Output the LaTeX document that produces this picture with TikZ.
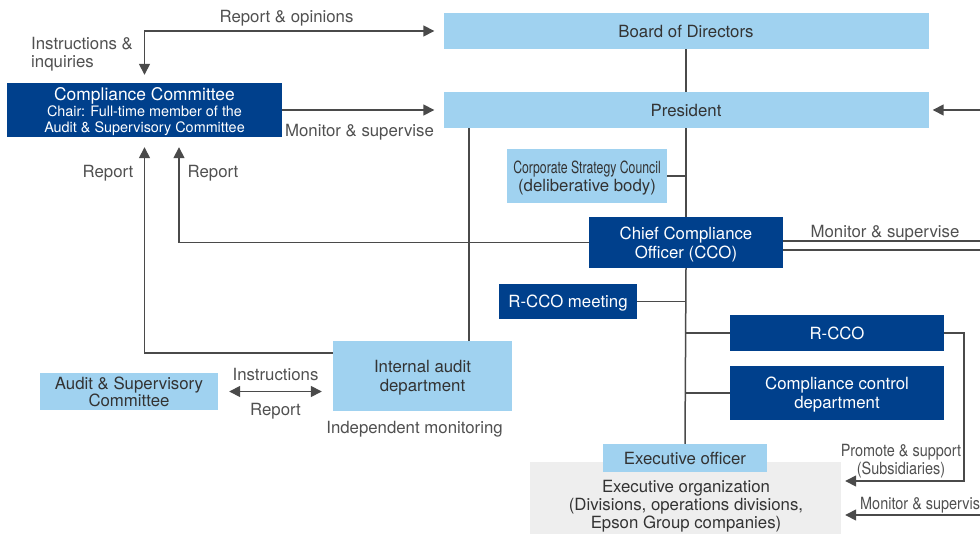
\documentclass[tikz,border=0pt]{standalone}
\usepackage{graphicx}
\usepackage{fontspec}
\setmainfont{TeX Gyre Heros}
\usetikzlibrary{arrows.meta,calc}
\definecolor{lblue}{HTML}{A0D2F0}
\definecolor{dblue}{HTML}{00408C}
\definecolor{lgray}{HTML}{EEEEEE}
\definecolor{linec}{HTML}{4A4A4A}
\definecolor{txtc}{HTML}{333333}
\definecolor{lblc}{HTML}{505050}
\newcommand{\mainsz}{\fontsize{16.8}{19}\selectfont}
\newcommand{\titlesz}{\fontsize{17.4}{19}\selectfont}
\newcommand{\smallsz}{\fontsize{14.4}{16.5}\selectfont}
\newcommand{\condA}[1]{\scalebox{0.73}[1]{#1}}
\newcommand{\condB}[1]{\scalebox{0.86}[1]{#1}}
\begin{document}
\begin{tikzpicture}[x=1pt,y=-1pt,
  >={Triangle[length=11pt,width=11pt]},
  lbox/.style={fill=lblue, text=txtc, inner sep=0pt, align=center, font=\mainsz, text depth=0pt},
  dbox/.style={fill=dblue, text=white, inner sep=0pt, align=center, font=\mainsz, text depth=0pt},
  gbox/.style={fill=lgray, inner sep=0pt},
  conn/.style={draw=linec, line width=1.5pt},
  lab/.style={text=lblc, font=\mainsz, inner sep=0pt, align=center, text depth=0pt}]
\useasboundingbox (0,0) rectangle (980,534);

% boxes
\node[lbox, minimum width=485pt, minimum height=36pt] (bod) at (686,31) {Board of Directors};
\node[lbox, minimum width=485pt, minimum height=36pt] (pres) at (686,110) {President};
\node[dbox, minimum width=275pt, minimum height=54pt, font=\smallsz] (cc) at (144.5,110)
  {{\titlesz Compliance Committee}\\[0pt]Chair: Full-time member of the\\[-0.5pt]Audit \& Supervisory Committee};
\node[lbox, minimum width=160pt, minimum height=54pt] (csc) at (587,176)
  {\condA{Corporate Strategy Council}\\[-1pt](deliberative body)};
\node[dbox, minimum width=194pt, minimum height=51pt] (cco) at (686,242.5)
  {Chief Compliance\\Officer (CCO)};
\node[dbox, minimum width=138pt, minimum height=35pt] (rccom) at (568,301.5) {R-CCO meeting};
\node[dbox, minimum width=214pt, minimum height=36pt] (rcco) at (837,333) {R-CCO};
\node[dbox, minimum width=214pt, minimum height=54pt] (ccd) at (837,393)
  {Compliance control\\department};
\node[lbox, minimum width=179pt, minimum height=70pt] (iad) at (422.5,376)
  {Internal audit\\department};
\node[lbox, minimum width=178pt, minimum height=37pt] (asc) at (129,391.5)
  {Audit \& Supervisory\\[-1.5pt]Committee};
\node[gbox, minimum width=311pt, minimum height=72pt] (exorg) at (685.5,498) {};
\node[lab, text=txtc] (exorgtxt) at (686,504.5)
  {Executive organization\\[-1pt](Divisions, operations divisions,\\[-1pt]Epson Group companies)};
\node[lbox, minimum width=164pt, minimum height=28pt] (exof) at (685,458) {Executive officer};

% labels
\node[lab] (lrepop) at (286.5,16) {Report \& opinions};
\node[lab, anchor=west, align=left] (linstr) at (31,52) {Instructions \&\\[-1pt]inquiries};
\node[lab] (lmon1) at (359.5,130) {Monitor \& supervise};
\node[lab] (lrep1) at (108,171) {Report};
\node[lab] (lrep2) at (213,171) {Report};
\node[lab] (lmon2) at (885,231) {Monitor \& supervise};
\node[lab] (lprom) at (901,459) {\condB{Promote \& support}\\[-1pt]\condB{(Subsidiaries)}};
\node[lab, anchor=west] (lmon3) at (860,503) {\condB{Monitor \& supervise}};
\node[lab] (linst2) at (275.5,374) {Instructions};
\node[lab] (lrep3) at (275.5,409) {Report};
\node[lab] (lindep) at (414.5,427) {Independent monitoring};

% free ends at the right edge
\coordinate (rP) at (980,110);
\coordinate (rA) at (980,241);
\coordinate (rB) at (980,250);
\coordinate (rM) at (980,515);

% connectors
\draw[conn] (bod.south) -- (pres.north);
\draw[conn] (pres.south) -- (cco.north);
\draw[conn] (cco.south) -- (exof.north);
\draw[conn, ->] (cc.east) -- ($(pres.west)+(-9,0)$);
\draw[conn, <->, shorten <=9pt, shorten >=8pt] (bod.west) -| (cc.north);
\draw[conn, ->, shorten >=10pt] ($(iad.west)+(0,-23)$) -| (cc.south);
\draw[conn, ->, shorten >=10pt] (cco.west) -| ($(cc.south)+(34.5,0)$);
\coordinate (iaT) at ($(iad.north east)+(-43,0)$);
\draw[conn] (iaT) -- (iaT |- pres.south);
\draw[conn] (csc.east) -- (csc.east -| pres.south);
\draw[conn] (rccom.east) -- (rccom.east -| pres.south);
\draw[conn] (rcco.west) -- (rcco.west -| pres.south);
\draw[conn] (ccd.west) -- (ccd.west -| pres.south);
\draw[conn] (cco.east |- rA) -- (rA);
\draw[conn] (cco.east |- rB) -- (rB);
\draw[conn, ->] (rP) -- ($(pres.east)+(4,0)$);
\draw[conn, ->] (rcco.east) -- ++(20,0) |- ($(exorg.east)+(4,-17)$);
\draw[conn, ->] (rM) -- ($(exorg.east)+(4,17)$);
\draw[conn, <->, shorten <=11pt, shorten >=11pt] (asc.east) -- (asc.east -| iad.west);
\end{tikzpicture}
\end{document}
